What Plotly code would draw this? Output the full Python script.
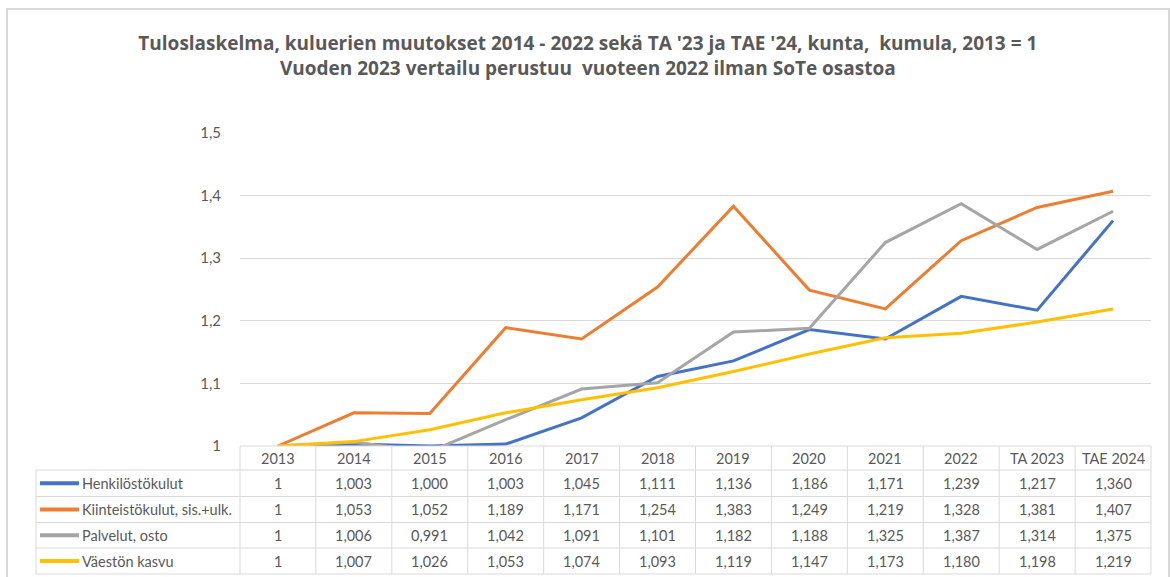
import plotly.graph_objects as go

# ── Data ────────────────────────────────────────────────────────────────────
years = ["2013", "2014", "2015", "2016", "2017", "2018", "2019",
         "2020", "2021", "2022", "TA 2023", "TAE 2024"]

henkilosto = [1, 1.003, 1.000, 1.003, 1.045, 1.111, 1.136, 1.186, 1.171, 1.239, 1.217, 1.360]
kiinteisto = [1, 1.053, 1.052, 1.189, 1.171, 1.254, 1.383, 1.249, 1.219, 1.328, 1.381, 1.407]
palvelut = [1, 1.006, 0.991, 1.042, 1.091, 1.101, 1.182, 1.188, 1.325, 1.387, 1.314, 1.375]
vaesto = [1, 1.007, 1.026, 1.053, 1.074, 1.093, 1.119, 1.147, 1.173, 1.180, 1.198, 1.219]

series_names = ["Henkilöstökulut", "Kiinteistökulut, sis.+ulk.", "Palvelut, osto", "Väestön kasvu"]
series_values = [henkilosto, kiinteisto, palvelut, vaesto]
COLORS = ["#4472C4", "#ED7D31", "#A5A5A5", "#FFC000"]

TITLE = ("Tuloslaskelma, kuluerien muutokset 2014 - 2022 sekä TA '23 ja TAE '24, kunta,  kumula, 2013 = 1"
         "<br>Vuoden 2023 vertailu perustuu  vuoteen 2022 ilman SoTe osastoa")

# ── Geometry (pixels) ───────────────────────────────────────────────────────
W, H = 1171, 577
PL, PR, PT, PB = 240, 1151, 133, 446      # plot area
TXT = "#595959"
GRID = "#D9D9D9"
FONT = "Lato, Calibri, sans-serif"


def px_x(p):
    return (p - PL) / (PR - PL)


def px_y(p):
    return (PB - p) / (PB - PT)


def fmt(v, i):
    return "1" if i == 0 else f"{v:.3f}".replace(".", ",")


fig = go.Figure()

for name, vals, col in zip(series_names, series_values, COLORS):
    fig.add_trace(go.Scatter(
        x=years, y=vals, name=name, mode="lines",
        line=dict(color=col, width=3),
        showlegend=False,
    ))

# ── Data table under the plot ───────────────────────────────────────────────
row_edges = [446, 470, 496.5, 522.5, 548, 574]
shapes = []
line_style = dict(color=GRID, width=1)

# horizontal lines
shapes.append(dict(type="line", xref="paper", yref="paper",
                   x0=0, x1=1, y0=px_y(row_edges[0]), y1=px_y(row_edges[0]), line=line_style))
for r in row_edges[1:]:
    shapes.append(dict(type="line", xref="paper", yref="paper",
                       x0=px_x(36), x1=1, y0=px_y(r), y1=px_y(r), line=line_style))
# vertical lines
col_w = (PR - PL) / len(years)
for k in range(len(years) + 1):
    xp = PL + k * col_w
    shapes.append(dict(type="line", xref="paper", yref="paper",
                       x0=px_x(xp), x1=px_x(xp), y0=px_y(row_edges[0]), y1=px_y(row_edges[-1]),
                       line=line_style))
shapes.append(dict(type="line", xref="paper", yref="paper",
                   x0=px_x(36), x1=px_x(36), y0=px_y(row_edges[1]), y1=px_y(row_edges[-1]),
                   line=line_style))

# outer chart border
shapes.append(dict(type="path", xref="paper", yref="paper",
                   path=f"M {px_x(7)},{px_y(590)} L {px_x(7)},{px_y(9)} "
                        f"L {px_x(1169)},{px_y(9)} L {px_x(1169)},{px_y(590)}",
                   line=dict(color="#D9D9D9", width=2)))

txt_font = dict(size=14.5, color=TXT, family=FONT)
annotations = []
for i, yr in enumerate(years):
    annotations.append(dict(x=i, xref="x", yref="paper",
                            y=px_y((row_edges[0] + row_edges[1]) / 2), text=yr,
                            xanchor="center", yanchor="middle",
                            showarrow=False, font=txt_font))

for j, (name, vals, col) in enumerate(zip(series_names, series_values, COLORS)):
    yc = px_y((row_edges[j + 1] + row_edges[j + 2]) / 2)
    shapes.append(dict(type="line", xref="paper", yref="paper",
                       x0=px_x(40), x1=px_x(79), y0=yc, y1=yc,
                       line=dict(color=col, width=4)))
    annotations.append(dict(x=px_x(80), xref="paper", yref="paper", y=yc, text=name,
                            xanchor="left", yanchor="middle", showarrow=False,
                            font=txt_font))
    for i, v in enumerate(vals):
        annotations.append(dict(x=i, xref="x", yref="paper", y=yc, text=fmt(v, i),
                                xanchor="center", yanchor="middle",
                                showarrow=False, font=txt_font))

fig.update_layout(
    width=W, height=H,
    margin=dict(l=PL, r=W - PR, t=PT, b=H - PB, pad=0),
    paper_bgcolor="white",
    plot_bgcolor="white",
    separators=", ",
    font=dict(family=FONT, color=TXT),
    title=dict(text=TITLE, x=0.502, xanchor="center", y=1 - 50 / H, yanchor="middle",
               font=dict(size=19, color=TXT, family="Open Sans, sans-serif", weight="bold")),
    xaxis=dict(type="category", range=[-0.5, len(years) - 0.5], showticklabels=False,
               showgrid=False, zeroline=False, showline=False, ticks=""),
    yaxis=dict(range=[1, 1.5], dtick=0.1, showgrid=True, gridcolor=GRID, gridwidth=1,
               zeroline=False, showline=False, ticks="outside", ticklen=15,
               tickcolor="rgba(0,0,0,0)",
               tickfont=dict(size=15, color=TXT, family=FONT)),
    shapes=shapes,
    annotations=annotations,
)

fig.write_html("out.html", config={"displayModeBar": False},
               post_script="document.body.style.margin='0px';")
